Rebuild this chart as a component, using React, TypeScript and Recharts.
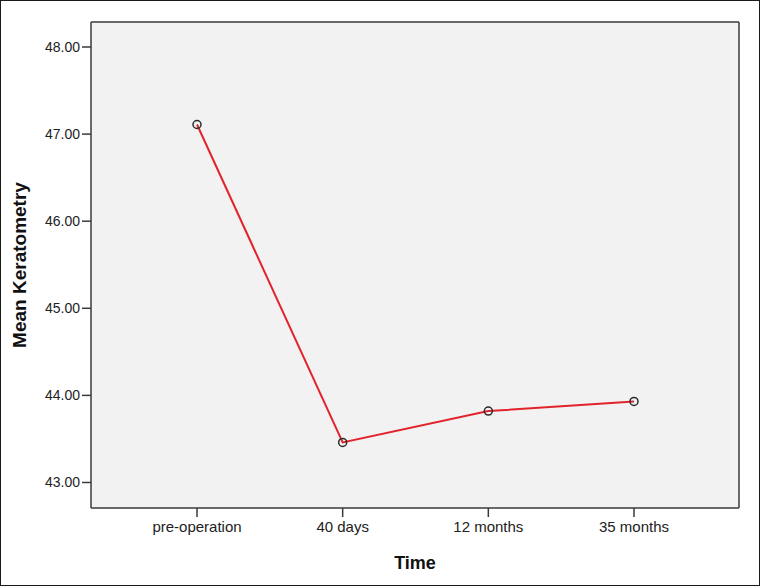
import { CartesianGrid, Label, Line, LineChart, XAxis, YAxis } from 'recharts'

const timePoints = ['pre-operation', '40 days', '12 months', '35 months']
const meanK = [47.11, 43.46, 43.82, 43.93]
const yTicks = [43, 44, 45, 46, 47, 48]

const data = timePoints.map((time, i) => ({ time, k: meanK[i] }))

const axisColor = '#3a3a3a'
const font = 'Arial, "Liberation Sans", sans-serif'

const Marker = (props: { cx?: number; cy?: number; index?: number }) => {
  const { cx, cy, index } = props
  if (cx == null || cy == null) return null
  return <circle key={index} cx={cx} cy={cy} r={4} fill="none" stroke="#2b2b2b" strokeWidth={1.5} />
}

export default function App() {
  return (
    <div
      style={{
        position: 'absolute',
        left: 0,
        top: 0,
        width: 760,
        height: 586,
        background: '#ffffff',
        outline: '1px solid #1a1a1a',
        outlineOffset: -1,
      }}
    >
      <LineChart width={760} height={586} data={data} margin={{ top: 21, right: 20, bottom: 0, left: 0 }}>
        <CartesianGrid horizontal={false} vertical={false} fill="#f2f2f2" />
        <XAxis
          dataKey="time"
          type="category"
          padding={{ left: 106, right: 105 }}
          height={78}
          stroke={axisColor}
          strokeWidth={1.5}
          tickSize={9}
          tickMargin={4}
          tick={{ fill: '#222', fontSize: 15, fontFamily: font }}
        >
          <Label
            value="Time"
            position="insideBottom"
            offset={17}
            style={{ fill: '#111', fontSize: 18, fontWeight: 'bold', fontFamily: font }}
          />
        </XAxis>
        <XAxis
          xAxisId="top"
          orientation="top"
          dataKey="time"
          height={1}
          tick={false}
          tickLine={false}
          stroke={axisColor}
          strokeWidth={1.5}
        />
        <YAxis
          domain={[42.707, 48.287]}
          ticks={yTicks}
          tickFormatter={(v: number) => v.toFixed(2)}
          width={91}
          stroke={axisColor}
          strokeWidth={1.5}
          tickSize={9}
          tickMargin={2}
          allowDataOverflow
          tick={{ fill: '#222', fontSize: 14, fontFamily: font }}
        >
          <Label
            value="Mean Keratometry"
            angle={-90}
            position="insideLeft"
            offset={19}
            style={{ fill: '#111', fontSize: 19, fontWeight: 'bold', fontFamily: font, textAnchor: 'middle' }}
          />
        </YAxis>
        <YAxis
          yAxisId="right"
          orientation="right"
          width={1}
          tick={false}
          tickLine={false}
          stroke={axisColor}
          strokeWidth={1.5}
        />
        <Line
          xAxisId="top"
          yAxisId="right"
          dataKey="k"
          stroke="none"
          dot={false}
          activeDot={false}
          legendType="none"
          isAnimationActive={false}
        />
        <Line
          dataKey="k"
          type="linear"
          stroke="#e3232c"
          strokeWidth={2}
          dot={Marker}
          activeDot={false}
          isAnimationActive={false}
        />
      </LineChart>
    </div>
  )
}
